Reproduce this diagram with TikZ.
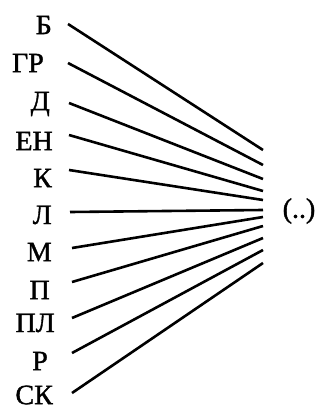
\documentclass[tikz,border=0pt]{standalone}
\usepackage{fontspec}
\setmainfont{Liberation Serif}
\newfontfamily\lblfont[FakeBold=1.2]{Liberation Serif}
\begin{document}
\begin{tikzpicture}[x=1pt,y=-1pt,
  lbl/.style={anchor=east,inner sep=0pt,font=\lblfont\fontsize{28}{28}\selectfont},
  ray/.style={line width=2.6pt}]
\useasboundingbox (0,0) rectangle (321,415);
\node[lbl] (b)  at (52,25)  {Б};
\node[lbl] (gr) at (44,63)  {ГР};
\node[lbl] (d)  at (50,104) {Д};
\node[lbl] (en) at (53,141) {ЕН};
\node[lbl] (k)  at (52,178) {К};
\node[lbl] (l)  at (52,215) {Л};
\node[lbl] (m)  at (52,252) {М};
\node[lbl] (p)  at (50,290) {П};
\node[lbl] (pl) at (55,323) {ПЛ};
\node[lbl] (r)  at (48,361) {Р};
\node[lbl] (sk) at (53,395) {СК};
\node[inner sep=0pt,font=\lblfont\fontsize{28}{28}\selectfont] (t) at (299,211) {(..)};
\coordinate (e1) at (263,150);
\coordinate (e2) at (263,165);
\coordinate (e3) at (263,179);
\coordinate (e4) at (263,191);
\coordinate (e5) at (263,200);
\coordinate (e6) at (263,210);
\coordinate (e7) at (263,217);
\coordinate (e8) at (263,226);
\coordinate (e9) at (263,238);
\coordinate (e10) at (263,250);
\coordinate (e11) at (263,263);
\draw[ray] ([xshift=16pt,yshift=1pt]b.east) -- (e1);
\draw[ray] ([xshift=24pt,yshift=0pt]gr.east) -- (e2);
\draw[ray] ([xshift=19pt,yshift=1pt]d.east) -- (e3);
\draw[ray] ([xshift=16pt,yshift=6pt]en.east) -- (e4);
\draw[ray] ([xshift=17pt,yshift=8pt]k.east) -- (e5);
\draw[ray] ([xshift=18pt,yshift=3pt]l.east) -- (e6);
\draw[ray] ([xshift=20pt,yshift=4pt]m.east) -- (e7);
\draw[ray] ([xshift=22pt,yshift=8pt]p.east) -- (e8);
\draw[ray] ([xshift=17pt,yshift=5pt]pl.east) -- (e9);
\draw[ray] ([xshift=24pt,yshift=8pt]r.east) -- (e10);
\draw[ray] ([xshift=19pt,yshift=2pt]sk.east) -- (e11);
\end{tikzpicture}
\end{document}
